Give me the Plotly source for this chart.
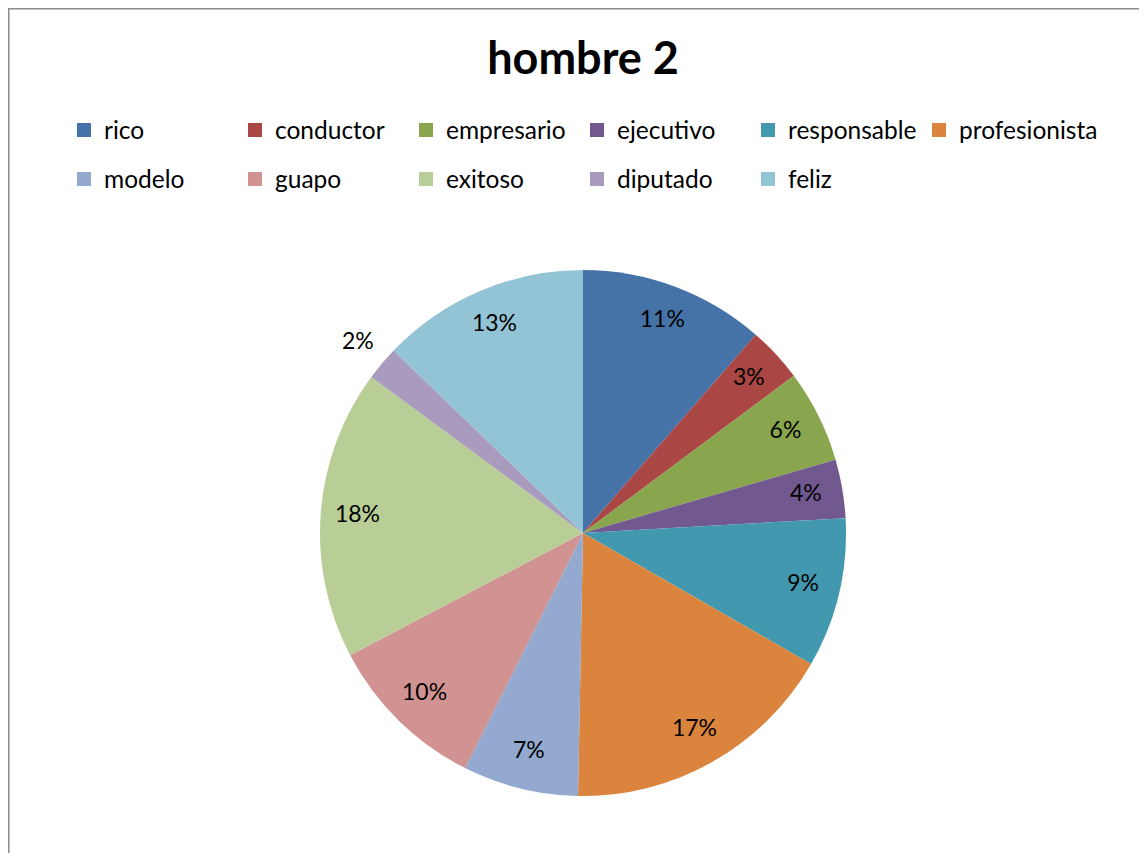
import plotly.graph_objects as go

title_text = "hombre 2"
categories = ["rico", "conductor", "empresario", "ejecutivo", "responsable",
              "profesionista", "modelo", "guapo", "exitoso", "diputado", "feliz"]
values = [11.4, 3.4, 5.7, 3.6, 9.2, 17.0, 7.1, 9.9, 17.8, 2.1, 12.8]
colors = ["#4572A7", "#AA4643", "#89A54E", "#71588F", "#4198AF", "#DB843D",
          "#93A9CF", "#D19392", "#B9CD96", "#A99BBD", "#93C4D5"]

# page body has an 8px margin; size the figure so nothing overflows the window
W, H = 1131, 845
FONT = "Lato"

# pie geometry in figure pixels; polar range extends past the pie so that
# the outside label fits inside the radial range
cx, cy, rad = 575, 525, 263
R_MAX = 1.2
outer = rad * R_MAX
dom = dict(x=[(cx - outer) / W, (cx + outer) / W],
           y=[1 - (cy + outer) / H, 1 - (cy - outer) / H])

total = sum(values)
shares = [v / total for v in values]
pct_text = [f"{round(s * 100):.0f}%" for s in shares]
slice_deg = [s * 360 for s in shares]
mid_angles = []
acc = 0.0
for d in slice_deg:
    mid_angles.append(acc + d / 2)
    acc += d
label_r = [1.12 if c == "diputado" else 0.86 for c in categories]

fig = go.Figure()

# pie slices drawn as full-radius polar sectors
fig.add_trace(go.Barpolar(
    theta=mid_angles, width=slice_deg, r=[1] * len(values), base=0,
    marker=dict(color=colors, line=dict(width=0)),
    customdata=[[c, p] for c, p in zip(categories, pct_text)],
    hovertemplate="%{customdata[0]}: %{customdata[1]}<extra></extra>",
    showlegend=False,
))

# data labels
fig.add_trace(go.Scatterpolar(
    theta=mid_angles, r=label_r, mode="text", text=pct_text,
    textposition="middle center", cliponaxis=False,
    textfont=dict(family=FONT, size=23, color="black"),
    showlegend=False, hoverinfo="skip",
))

# legend entries (two rows as in the original)
for i, (cat, col) in enumerate(zip(categories, colors)):
    fig.add_trace(go.Scatter(
        x=[None], y=[None], mode="markers", name=cat,
        marker=dict(symbol="square", size=14, color=col, line=dict(width=0)),
        legend="legend" if i < 6 else "legend2", showlegend=True, hoverinfo="skip",
        legendwidth=160 if cat == "profesionista" else 126,
    ))

leg_common = dict(orientation="h", xanchor="left", yanchor="middle",
                  entrywidth=126, entrywidthmode="pixels",
                  font=dict(family=FONT, size=24.5, color="black"),
                  bgcolor="rgba(0,0,0,0)", borderwidth=0)

fig.update_layout(
    width=W, height=H,
    margin=dict(l=0, r=0, t=0, b=0),
    paper_bgcolor="white", plot_bgcolor="white",
    title=dict(text="<b>" + title_text + "</b>", x=575 / W, xanchor="center",
               y=1 - 50 / H, yanchor="middle",
               font=dict(family=FONT, size=45, color="black")),
    legend=dict(x=56 / W, y=1 - 122 / H, **leg_common),
    legend2=dict(x=56 / W, y=1 - 171 / H, **leg_common),
    xaxis=dict(visible=False), yaxis=dict(visible=False),
    polar=dict(domain=dom, bgcolor="rgba(0,0,0,0)", hole=0,
               radialaxis=dict(visible=False, range=[0, R_MAX]),
               angularaxis=dict(visible=False, rotation=90, direction="clockwise",
                                thetaunit="degrees")),
    shapes=[
        dict(type="line", xref="paper", yref="paper", x0=0, x1=0, y0=0, y1=1,
             line=dict(color="#8C8C8C", width=3), layer="above"),
        dict(type="line", xref="paper", yref="paper", x0=0, x1=1, y0=1, y1=1,
             line=dict(color="#8C8C8C", width=3), layer="above"),
    ],
)

fig.write_html("out.html")
